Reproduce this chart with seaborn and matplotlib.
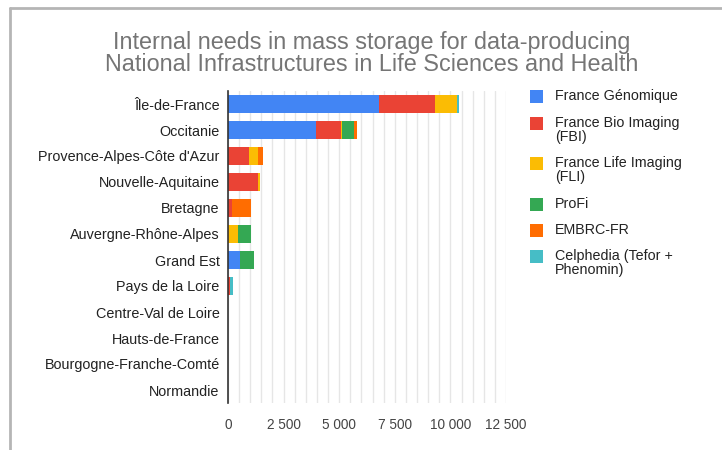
import matplotlib
matplotlib.use("Agg")
import matplotlib.pyplot as plt
import matplotlib.ticker as mticker
from matplotlib.lines import Line2D
from matplotlib.patches import Rectangle
import seaborn as sns
import pandas as pd
import numpy as np

regions = ["Île-de-France", "Occitanie", "Provence-Alpes-Côte d'Azur", "Nouvelle-Aquitaine",
           "Bretagne", "Auvergne-Rhône-Alpes", "Grand Est", "Pays de la Loire",
           "Centre-Val de Loire", "Hauts-de-France", "Bourgogne-Franche-Comté", "Normandie"]
series_names = ["France Génomique", "France Bio Imaging\n(FBI)", "France Life Imaging\n(FLI)",
                "ProFi", "EMBRC-FR", "Celphedia (Tefor +\nPhenomin)"]
france_genomique = [6800, 3960, 0, 0, 0, 0, 540, 0, 0, 0, 0, 0]
fbi =              [2490, 1110, 960, 1365, 165, 0, 0, 90, 0, 0, 0, 0]
fli =              [1010, 50, 400, 75, 0, 465, 0, 0, 0, 0, 0, 0]
profi =            [0, 550, 0, 0, 0, 555, 630, 0, 0, 0, 0, 0]
embrc =            [0, 120, 225, 0, 870, 0, 0, 0, 0, 0, 0, 0]
celphedia =        [90, 0, 0, 0, 0, 0, 0, 120, 0, 0, 0, 0]
xticks = [0, 2500, 5000, 7500, 10000, 12500]

colors = ["#4285F4", "#EA4335", "#FBBC04", "#34A853", "#FF6D01", "#46BDC6"]

sns.set_theme(style="white")
plt.rcParams['font.family'] = ['Liberation Sans', 'DejaVu Sans']

W, H = 722, 450
fig = plt.figure(figsize=(7.22, 4.5), dpi=100)
ax = fig.add_axes([228/W, 47/H, (506-228)/W, (403-91)/H])

series = [france_genomique, fbi, fli, profi, embrc, celphedia]
cum = np.cumsum(np.array(series, dtype=float), axis=0)
df = pd.DataFrame({"region": regions})
for i in range(len(series) - 1, -1, -1):
    df["v"] = cum[i]
    sns.barplot(data=df, y="region", x="v", orient="h", color=colors[i],
                saturation=1, width=0.66, ax=ax, zorder=3, linewidth=0)

ax.set_xlim(0, 12500)
ax.set_ylim(11.5, -0.5)
ax.xaxis.set_major_locator(mticker.FixedLocator(xticks))
ax.xaxis.set_minor_locator(mticker.MultipleLocator(500))
ax.xaxis.set_major_formatter(mticker.FuncFormatter(lambda v, p: f"{int(v):,}".replace(",", " ")))
ax.grid(True, axis="x", which="both", color="#e6e6e6", linewidth=1, zorder=0)
ax.grid(False, axis="y")
ax.set_axisbelow(True)
for s in ["top", "right", "bottom"]:
    ax.spines[s].set_visible(False)
ax.spines["left"].set_color("#333333")
ax.spines["left"].set_linewidth(1.2)
ax.spines["left"].set_zorder(5)
ax.tick_params(axis="x", length=0, pad=11, labelsize=9.8, labelcolor="#444444")
ax.tick_params(axis="y", length=0, pad=6, labelsize=10.4, labelcolor="#222222")
ax.set_xlabel("")
ax.set_ylabel("")

fig.text(372/W, 1 - 43/H, "Internal needs in mass storage for data-producing",
         ha="center", va="center", fontsize=16.8, color="#757575")
fig.text(372/W, 1 - 65/H, "National Infrastructures in Life Sciences and Health",
         ha="center", va="center", fontsize=16.8, color="#757575")

# legend (manual, squares aligned with the first text line)
legend_first_line_y = [96, 123, 163, 204, 230, 256]
line_step = 14
sq = 13
for name, c, y0 in zip(series_names, colors, legend_first_line_y):
    fig.add_artist(Rectangle((530/W, 1 - (y0 + sq/2)/H), sq/W, sq/H,
                             facecolor=c, edgecolor="none", transform=fig.transFigure))
    for k, line in enumerate(name.split("\n")):
        fig.text(555/W, 1 - (y0 + k*line_step)/H, line, ha="left", va="center",
                 fontsize=10.3, color="#222222")

fig.add_artist(Line2D([10/W, 1], [1 - 8/H, 1 - 8/H], color="#b5b5b5", linewidth=2))
fig.add_artist(Line2D([10/W, 10/W], [0, 1 - 8/H], color="#b5b5b5", linewidth=2))

fig.savefig("out.png", dpi=100)
